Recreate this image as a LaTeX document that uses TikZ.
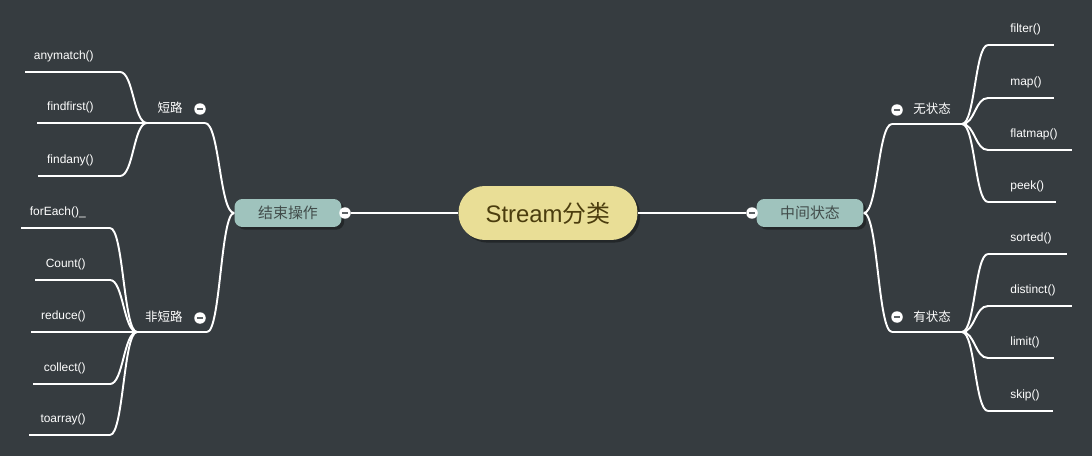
\documentclass[tikz,border=0pt]{standalone}
\usepackage{fontspec}
\setmainfont{Liberation Sans}
\newfontfamily\cjk{Noto Sans CJK SC}
\usetikzlibrary{calc,shadows}
\definecolor{board}{HTML}{363C40}
\definecolor{rootfill}{HTML}{E9DE96}
\definecolor{roottext}{HTML}{4B3D0E}
\definecolor{topicfill}{HTML}{9FC3BD}
\definecolor{topictext}{HTML}{424D4B}
\tikzset{
	root/.style={fill=rootfill,text=roottext,rounded corners=15pt,minimum width=3.58cm,minimum height=1.08cm,inner sep=0pt,
		font=\fontsize{13.6}{16}\selectfont,drop shadow={shadow xshift=1.5pt,shadow yshift=-1.5pt,fill=black,opacity=0.35}},
	topic/.style={fill=topicfill,text=topictext,rounded corners=4.5pt,minimum width=2.14cm,minimum height=0.56cm,inner sep=0pt,
		font=\fontsize{8.5}{10}\cjk,drop shadow={shadow xshift=1.5pt,shadow yshift=-1.5pt,fill=black,opacity=0.35}},
	sub/.style={text=white,inner sep=0pt,font=\fontsize{7.1}{9}\cjk},
	leaf/.style={text=white,inner sep=0pt,font=\fontsize{6.8}{8}\selectfont},
	wire/.style={draw=white,line width=1.1pt},
	trunk/.style={draw=white,line width=1.7pt},
	fold/.style={circle,fill=white,minimum size=0.23cm,inner sep=0pt,
		path picture={\draw[board!80,line width=1.1pt] ([xshift=1.5pt]path picture bounding box.west)--([xshift=-1.5pt]path picture bounding box.east);}}
}
% s-shaped mind map link
\newcommand\mmcurve[2]{\draw[wire] let \p1=(#1),\p2=(#2) in (\p1) .. controls ({(\x1+\x2)/2},\y1) and ({(\x1+\x2)/2},\y2) .. (\p2);}

\begin{document}
\begin{tikzpicture}[x=0.02cm,y=-0.02cm]
	\fill[board] (0,0) rectangle (1092,456);
	% centre and the two topics
	\node[root] (root) at (548,213) {Stream\cjk 分类};
	\node[topic] (end) at (288,213) {结束操作};
	\node[topic] (mid) at (810,213) {中间状态};
	\node[fold] (fe) at (345,213) {};
	\node[fold] (fm) at (752,213) {};
	\draw[trunk] (root) -- (fe);
	\draw[trunk] (root) -- (fm);
	% left side
	\coordinate (sj) at (147,123); \coordinate (sk) at (205,123);
	\coordinate (nj) at (137,332); \coordinate (nk) at (207,332);
	\node[sub,anchor=east] (short) at (183,108) {短路};
	\node[sub,anchor=east] (nonshort) at (183,317) {非短路};
	\draw[wire] (sj) -- (sk);
	\draw[wire] (nj) -- (nk);
	\mmcurve{sk}{end.west}
	\mmcurve{nk}{end.west}
	\node[fold] (fs) at (200,109) {};
	\node[fold] (fn) at (200,318) {};
	\foreach \nm/\txt/\xa/\xb/\y in {am/anymatch()/25/120/72, ff/findfirst()/37/147/123, fa/findany()/38/120/176}{
		\coordinate (\nm-a) at (\xa,\y); \coordinate (\nm-b) at (\xb,\y);
		\node[leaf,anchor=east] (\nm) at (94,\y-16) {\txt};
		\draw[wire] (\nm-a) -- (\nm-b);
		\mmcurve{\nm-b}{sj}
	}
	\foreach \nm/\txt/\xa/\xb/\y in {fe/forEach()\_/21/110/228, co/Count()/35/110/280, re/reduce()/31/137/332, cl/collect()/33/110/384, ta/toarray()/29/110/435}{
		\coordinate (\nm-a) at (\xa,\y); \coordinate (\nm-b) at (\xb,\y);
		\node[leaf,anchor=east] (\nm) at (86,\y-16) {\txt};
		\draw[wire] (\nm-a) -- (\nm-b);
		\mmcurve{\nm-b}{nj}
	}
	% right side
	\coordinate (wj) at (892,124); \coordinate (wk) at (962,124);
	\coordinate (yj) at (892,332); \coordinate (yk) at (962,332);
	\node[sub,anchor=west] (stateless) at (913,109) {无状态};
	\node[sub,anchor=west] (stateful) at (913,317) {有状态};
	\draw[wire] (wj) -- (wk);
	\draw[wire] (yj) -- (yk);
	\mmcurve{mid.east}{wj}
	\mmcurve{mid.east}{yj}
	\node[fold] (fw) at (897,110) {};
	\node[fold] (fy) at (897,317) {};
	\foreach \nm/\txt/\xb/\y in {fi/filter()/1054/45, ma/map()/1054/98, fm/flatmap()/1072/150, pe/peek()/1056/202}{
		\coordinate (\nm-a) at (988,\y); \coordinate (\nm-b) at (\xb,\y);
		\node[leaf,anchor=west] (\nm) at (1010,\y-16) {\txt};
		\draw[wire] (\nm-a) -- (\nm-b);
		\mmcurve{wk}{\nm-a}
	}
	\foreach \nm/\txt/\xb/\y in {so/sorted()/1067/254, di/distinct()/1072/306, li/limit()/1054/358, sk/skip()/1053/411}{
		\coordinate (\nm-a) at (988,\y); \coordinate (\nm-b) at (\xb,\y);
		\node[leaf,anchor=west] (\nm) at (1010,\y-16) {\txt};
		\draw[wire] (\nm-a) -- (\nm-b);
		\mmcurve{yk}{\nm-a}
	}
\end{tikzpicture}
\end{document}
